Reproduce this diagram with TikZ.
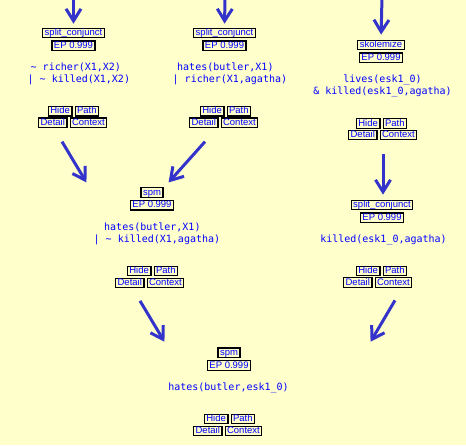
\documentclass[tikz,border=0pt]{standalone}
\usepackage{fontspec}
\setsansfont{Liberation Sans}
\newfontfamily\clausefont{DejaVu Sans Mono}
\usetikzlibrary{arrows.meta,positioning,calc}
\definecolor{paper}{HTML}{FFFFCC}
\definecolor{inkblue}{HTML}{0000FF}
\definecolor{linkblue}{HTML}{3333CC}
\tikzset{
  rulebox/.style={rectangle,draw=black,line width=1.2pt,fill=paper,text=inkblue,
    font=\sffamily\fontsize{9.5}{10}\selectfont,inner xsep=2pt,inner ysep=0pt,
    minimum height=9.5pt,text height=7pt,text depth=2pt},
  button/.style={rulebox},
  clause/.style={font=\clausefont\fontsize{10}{12}\selectfont,text=inkblue,inner sep=0pt,align=left},
  flow/.style={-{Straight Barb[length=12pt,width=15pt]},line width=3pt,draw=linkblue}
}
\begin{document}
\begin{tikzpicture}[x=1pt,y=-1pt]
  \fill[paper] (0,0) rectangle (466,445);
  \useasboundingbox (0,0) rectangle (466,445);

  % left branch
  \node[rulebox] (r1) at (73.5,33) {split\_conjunct};
  \node[rulebox,below=2pt of r1] (e1) {EP 0.999};
  \node[clause,anchor=base west] (c1) at (27.5,82.5) {\hspace*{3pt}\char`~{} richer(X1,X2)\\| \char`~{} killed(X1,X2)};
  \node[button,anchor=east] (h1) at (72.5,111.3) {Hide};
  \node[button,right=2pt of h1] (p1) {Path};
  \node[button,anchor=east] (d1) at (67.5,122.8) {Detail};
  \node[button,right=2pt of d1] (x1) {Context};

  % middle branch
  \node[rulebox] (r2) at (224.5,33) {split\_conjunct};
  \node[rulebox,below=2pt of r2] (e2) {EP 0.999};
  \node[clause,anchor=base west] (c2) at (172.5,82.5) {\hspace*{4.5pt}hates(butler,X1)\\| richer(X1,agatha)};
  \node[button,anchor=east] (h2) at (224.5,111.3) {Hide};
  \node[button,right=2pt of h2] (p2) {Path};
  \node[button,anchor=east] (d2) at (218.5,122.8) {Detail};
  \node[button,right=2pt of d2] (x2) {Context};

  % right branch
  \node[rulebox] (r3) at (381,45) {skolemize};
  \node[rulebox,below=2pt of r3] (e3) {EP 0.999};
  \node[clause,align=center,anchor=base] (c3) at (382.5,94.5) {lives(esk1\_0)\\\& killed(esk1\_0,agatha)};
  \node[button,anchor=east] (h3) at (380.5,123.5) {Hide};
  \node[button,right=2pt of h3] (p3) {Path};
  \node[button,anchor=east] (d3) at (377.5,135) {Detail};
  \node[button,right=2pt of d3] (x3) {Context};

  % spm of left and middle
  \node[rulebox] (r4) at (152,192.5) {spm};
  \node[rulebox,below=2pt of r4] (e4) {EP 0.999};
  \node[clause,anchor=base west] (c4) at (93.5,242) {\hspace*{10.5pt}hates(butler,X1)\\| \char`~{} killed(X1,agatha)};
  \node[button,anchor=east] (h4) at (151.5,271) {Hide};
  \node[button,right=2pt of h4] (p4) {Path};
  \node[button,anchor=east] (d4) at (144.5,283) {Detail};
  \node[button,right=2pt of d4] (x4) {Context};

  % split of skolemized
  \node[rulebox] (r5) at (382,205) {split\_conjunct};
  \node[rulebox,below=2pt of r5] (e5) {EP 0.999};
  \node[clause,anchor=base] (c5) at (383.5,242.5) {killed(esk1\_0,agatha)};
  \node[button,anchor=east] (h5) at (380.5,271) {Hide};
  \node[button,right=2pt of h5] (p5) {Path};
  \node[button,anchor=east] (d5) at (372.5,282.5) {Detail};
  \node[button,right=2pt of d5] (x5) {Context};

  % final spm
  \node[rulebox] (r6) at (229,352.8) {spm};
  \node[rulebox,below=2pt of r6] (e6) {EP 0.999};
  \node[clause,anchor=base] (c6) at (228.5,390) {hates(butler,esk1\_0)};
  \node[button,anchor=east] (h6) at (228.5,419) {Hide};
  \node[button,right=2pt of h6] (p6) {Path};
  \node[button,anchor=east] (d6) at (222.5,431) {Detail};
  \node[button,right=2pt of d6] (x6) {Context};

  % incoming from above
  \coordinate (in1) at (73.5,-3);
  \coordinate (in2) at (225,-3);
  \coordinate (in3) at (382,-3);
  \draw[flow,shorten >=4pt] (in1) -- (r1.north);
  \draw[flow,shorten >=4pt] (in2) -- (r2.north);
  \draw[flow,shorten >=5pt] (in3) -- (r3.north);

  % derivation steps
  \draw[flow] ([shift={(-5.5,13.5)}]d1.south east) -- ([shift={(-54,-4.75)}]r4.north west);
  \draw[flow] ([shift={(-13.5,13.5)}]d2.south east) -- ([shift={(5,-4.75)}]r4.north east);
  \draw[flow] ([shift={(5.5,13.5)}]d3.south east) -- ([shift={(1,-5)}]r5.north);
  \draw[flow] ([shift={(-4.5,12.5)}]d4.south east) -- ([shift={(-53,-5.75)}]r6.north west);
  \draw[flow] ([shift={(22.5,12.5)}]d5.south east) -- ([shift={(130,-5.75)}]r6.north east);
\end{tikzpicture}
\end{document}
